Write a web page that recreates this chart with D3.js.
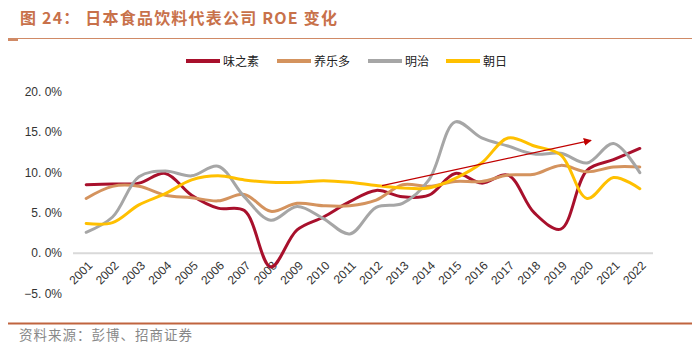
<!DOCTYPE html>
<html>
<head>
<meta charset="utf-8">
<script src="https://cdn.jsdelivr.net/npm/d3@7"></script>
<style>
  body { margin: 0; background: #fff; }
  svg { font-family: "Liberation Sans", Arial, sans-serif; }
</style>
</head>
<body>
<div id="chart"></div>
<script>
// years on the x axis
const years = d3.range(2001, 2023).map(String);

// ROE in %
const ajinomoto = [8.5, 8.6, 8.7, 9.9, 7.2, 5.6, 5.3, -1.7, 2.9, 4.5, 6.4, 7.8, 7.0, 7.2, 9.9, 8.7, 9.7, 5.0, 3.0, 10.3, 11.6, 13.0];
const yakult    = [6.8, 8.3, 8.3, 7.2, 6.9, 6.5, 7.3, 5.2, 6.2, 5.9, 5.9, 6.6, 8.5, 8.3, 8.9, 8.9, 9.7, 9.8, 10.9, 10.1, 10.7, 10.7];
const meiji     = [2.6, 4.5, 9.5, 10.2, 9.6, 10.8, 7.0, 4.1, 5.8, 4.3, 2.4, 5.7, 6.2, 9.1, 16.3, 14.3, 13.3, 12.3, 12.4, 11.2, 13.6, 10.0];
const asahi     = [3.7, 3.8, 6.0, 7.4, 9.1, 9.6, 9.1, 8.8, 8.8, 9.0, 8.8, 8.4, 8.1, 8.1, 9.3, 11.2, 14.3, 13.3, 12.2, 6.8, 9.4, 8.0];

const seriesNames = ["味之素", "养乐多", "明治", "朝日"];
const seriesColors = ["#A8102C", "#D4935E", "#A6A6A6", "#FFC000"];
const yTicks = [-5, 0, 5, 10, 15, 20];

// trend arrow: [year index, value]
const arrowFrom = [11.22, 8.4];
const arrowTo = [19.15, 14.0];

const allSeries = [ajinomoto, yakult, meiji, asahi];

const width = 700, height = 350;

const svg = d3.select("#chart").append("svg")
    .attr("width", width)
    .attr("height", height);

// header
svg.append("text")
    .attr("x", 20).attr("y", 24)
    .attr("fill", "#C8714A")
    .style("font-family", "'Noto Sans CJK SC', sans-serif")
    .style("font-size", "16px")
    .style("font-weight", "bold")
    .style("letter-spacing", "1.2px")
    .text("图 24： 日本食品饮料代表公司 ROE 变化");

svg.append("line")
    .attr("x1", 8).attr("x2", 692).attr("y1", 38.5).attr("y2", 38.5)
    .attr("stroke", "#D08A66").attr("stroke-width", 1);
svg.append("rect")
    .attr("x", 8).attr("y", 39).attr("width", 10).attr("height", 2)
    .attr("fill", "#D08A66");

// scales
const x = d3.scalePoint()
    .domain(years)
    .range([73, 653])
    .padding(0.5);

const step = x.step();
const xi = i => x(years[0]) + i * step;

const y = d3.scaleLinear()
    .domain([-5, 20])
    .range([293.6, 92]);

// y labels
svg.append("g")
    .selectAll("text")
    .data(yTicks)
    .enter()
    .append("text")
    .attr("x", 62)
    .attr("y", d => y(d) + 4)
    .attr("text-anchor", "end")
    .attr("fill", "#333")
    .style("font-size", "12px")
    .text(d => d3.format(".1f")(d).replace(".", ". ").replace("-", "−") + "%");

// zero line
svg.append("line")
    .attr("x1", 73).attr("x2", 653)
    .attr("y1", y(0)).attr("y2", y(0))
    .attr("stroke", "#D9D9D9").attr("stroke-width", 2);

// x labels
svg.append("g")
    .selectAll("text")
    .data(years)
    .enter()
    .append("text")
    .attr("transform", d => `translate(${x(d) + 4}, ${y(0) + 10}) rotate(-45)`)
    .attr("text-anchor", "end")
    .attr("dy", "0.35em")
    .attr("fill", "#333")
    .style("font-size", "12px")
    .text(d => d);

// lines
const line = d3.line()
    .x((d, i) => xi(i))
    .y(d => y(d))
    .curve(d3.curveCatmullRom.alpha(0.5));

svg.append("g")
    .selectAll("path")
    .data(allSeries)
    .enter()
    .append("path")
    .attr("d", line)
    .attr("fill", "none")
    .attr("stroke", (d, i) => seriesColors[i])
    .attr("stroke-width", 3)
    .attr("stroke-linejoin", "round")
    .attr("stroke-linecap", "round");

// trend arrow
svg.append("defs").append("marker")
    .attr("id", "arrow")
    .attr("viewBox", "0 0 10 10")
    .attr("refX", 9).attr("refY", 5)
    .attr("markerWidth", 8).attr("markerHeight", 8)
    .attr("markerUnits", "userSpaceOnUse")
    .attr("orient", "auto")
    .append("path")
    .attr("d", "M0,0 L10,5 L0,10 Z")
    .attr("fill", "#C00000");

svg.append("line")
    .attr("x1", xi(arrowFrom[0])).attr("y1", y(arrowFrom[1]))
    .attr("x2", xi(arrowTo[0])).attr("y2", y(arrowTo[1]))
    .attr("stroke", "#C00000")
    .attr("stroke-width", 1.2)
    .attr("marker-end", "url(#arrow)");

// legend
const legendX = [186, 277, 368, 446];
const legend = svg.append("g")
    .selectAll("g")
    .data(seriesNames)
    .enter()
    .append("g")
    .attr("transform", (d, i) => `translate(${legendX[i]}, 61)`);

legend.append("line")
    .attr("x1", 0).attr("x2", 34)
    .attr("stroke", (d, i) => seriesColors[i])
    .attr("stroke-width", 4);

legend.append("text")
    .attr("x", 37).attr("y", 4.5)
    .attr("fill", "#222")
    .style("font-family", "'Noto Sans CJK SC', sans-serif")
    .style("font-size", "12px")
    .text(d => d);

// footer
svg.append("line")
    .attr("x1", 8).attr("x2", 692).attr("y1", 323.5).attr("y2", 323.5)
    .attr("stroke", "#C0643F").attr("stroke-width", 2);

svg.append("text")
    .attr("x", 19).attr("y", 340)
    .attr("fill", "#888")
    .style("font-family", "'Noto Sans CJK SC', sans-serif")
    .style("font-size", "13.5px")
    .style("letter-spacing", "1px")
    .text("资料来源：彭博、招商证券");
</script>
</body>
</html>
